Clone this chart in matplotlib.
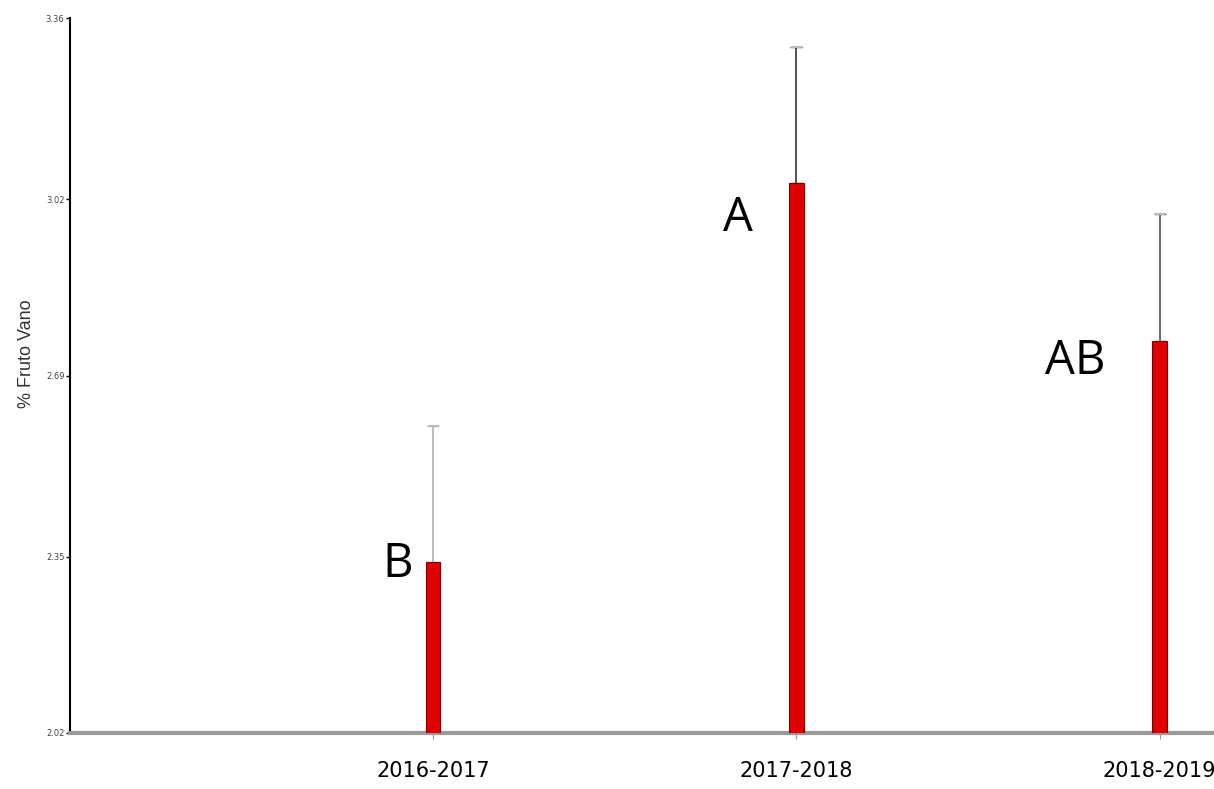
import matplotlib.pyplot as plt
import numpy as np

# data
seasons = ["2016-2017", "2017-2018", "2018-2019"]
means = [2.34, 3.05, 2.755]
err_up = [0.255, 0.255, 0.238]
letters = ["B", "A", "AB"]
yticks = [2.02, 2.35, 2.69, 3.02, 3.36]

fig = plt.figure(figsize=(12.14, 7.89), dpi=100)
ax = fig.add_axes([70/1214, 1 - 733/789, 1 - 70/1214, 715/789])

x = np.arange(1, len(seasons) + 1)
ax.bar(x, [m - 2.02 for m in means], bottom=2.02, width=0.04,
       color="#e00000", edgecolor="#7a0000", linewidth=0.8, zorder=3)

err_cols = ["#b0b0b0", "#333333", "#555555"]
for xi, m, e, c in zip(x, means, err_up, err_cols):
    ax.errorbar(xi, m, yerr=[[0], [e]], fmt="none", ecolor=c,
                elinewidth=1.2, capsize=4, capthick=1, zorder=2)
    ax.plot([xi - 0.012, xi + 0.012], [m + e, m + e], color="#bbbbbb", lw=1.5, zorder=2)

# letters next to the bars (offsets in pixels)
offs = [(-20, 22), (-43, -11), (-54, 3)]
for xi, m, lab, (dx, dy) in zip(x, means, letters, offs):
    ax.annotate(lab, (xi, m), xytext=(dx, dy), textcoords="offset pixels",
                ha="right", va="top", fontsize=34, family=["Open Sans", "DejaVu Sans"])

ax.set_xlim(0, 3.15)
ax.set_ylim(2.02, 3.36)
ax.set_yticks(yticks)
ax.set_yticklabels([f"{t:.2f}" for t in yticks], fontsize=6, color="#444444")
ax.set_xticks(x)
ax.set_xticklabels(seasons, fontsize=15, family=["Liberation Sans Narrow", "DejaVu Sans"])
ax.tick_params(axis="x", length=4, color="#999999", pad=16)
ax.tick_params(axis="y", length=3, width=1, pad=1)

ax.set_ylabel("% Fruto Vano", fontsize=13, color="#333333",
              family=["Liberation Sans", "DejaVu Sans"])
ax.yaxis.set_label_coords(-0.031, 0.53)

for s in ["top", "right"]:
    ax.spines[s].set_visible(False)
ax.spines["left"].set_color("black")
ax.spines["left"].set_linewidth(1.5)
ax.spines["bottom"].set_color("#9a9a9a")
ax.spines["bottom"].set_linewidth(3)

fig.savefig("out.png", dpi=100)
